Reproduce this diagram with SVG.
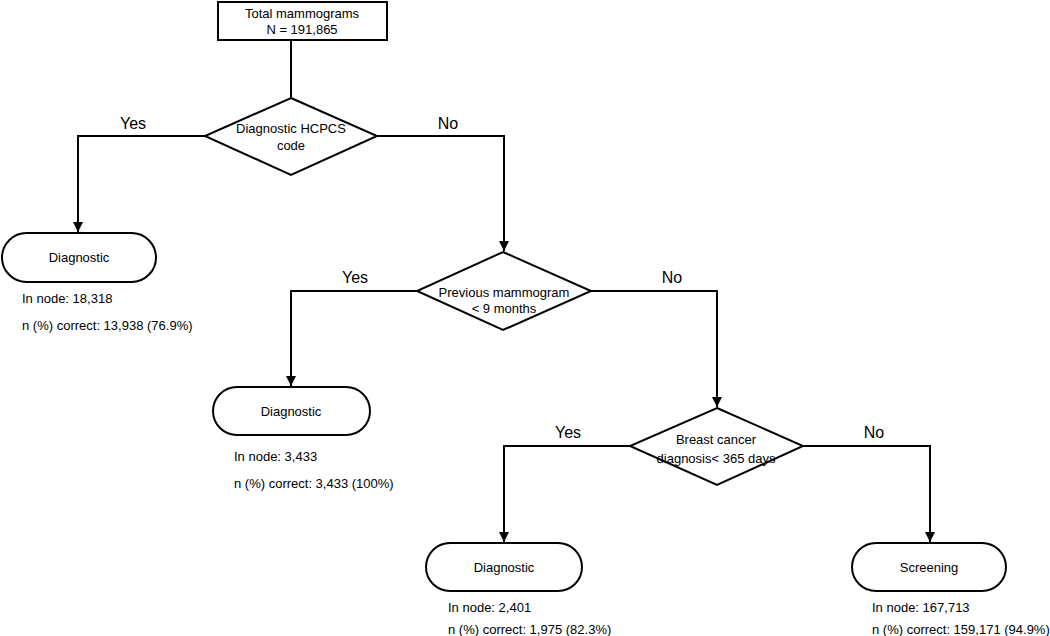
<svg xmlns="http://www.w3.org/2000/svg" width="1050" height="636" viewBox="0 0 1050 636">
<style>
.shape{fill:#fff;stroke:#000;stroke-width:2}
.edge{fill:none;stroke:#000;stroke-width:2}
text{font-family:"Liberation Sans",Arial,sans-serif;fill:#000}
.c{font-size:13px;text-anchor:middle}
.l{font-size:13px}
.yn{font-size:16px;text-anchor:middle}
</style>
<defs>
<marker id="arr" viewBox="0 0 10 10" refX="10" refY="5" markerWidth="5" markerHeight="5" orient="auto" markerUnits="strokeWidth">
<path d="M0,0 L10,5 L0,10 z" fill="#000"/>
</marker>
</defs>
<g id="connectors">
<path class="edge" d="M291,40 V98"/>
<path class="edge" d="M205,136 H78 V232" marker-end="url(#arr)"/>
<path class="edge" d="M377,136 H504 V251" marker-end="url(#arr)"/>
<path class="edge" d="M417,291 H291 V386" marker-end="url(#arr)"/>
<path class="edge" d="M591,291 H717 V407" marker-end="url(#arr)"/>
<path class="edge" d="M630,446 H504 V542" marker-end="url(#arr)"/>
<path class="edge" d="M803,446 H930 V542" marker-end="url(#arr)"/>
<text class="yn" x="133" y="129">Yes</text>
<text class="yn" x="448" y="129">No</text>
<text class="yn" x="355" y="283">Yes</text>
<text class="yn" x="672" y="283">No</text>
<text class="yn" x="568" y="438">Yes</text>
<text class="yn" x="874" y="438">No</text>
</g>
<g id="total">
<rect class="shape" x="218" y="2" width="169" height="38"/>
<text class="c" x="302" y="18">Total mammograms</text>
<text class="c" x="302" y="34">N = 191,865</text>
</g>
<g id="d1">
<polygon class="shape" points="291,98 377,136 291,175 205,136"/>
<text class="c" x="291" y="133">Diagnostic HCPCS</text>
<text class="c" x="291" y="150">code</text>
</g>
<g id="t1">
<rect class="shape" x="2" y="233" width="154" height="49" rx="24.5"/>
<text class="c" x="79" y="262">Diagnostic</text>
<text class="l" x="22" y="303">In node: 18,318</text>
<text class="l" x="22" y="330">n (%) correct: 13,938 (76.9%)</text>
</g>
<g id="d2">
<polygon class="shape" points="503,252 591,291 503,330 417,291"/>
<text class="c" x="504" y="297">Previous mammogram</text>
<text class="c" x="504" y="313">&lt; 9 months</text>
</g>
<g id="t2">
<rect class="shape" x="213" y="387" width="157" height="48" rx="24"/>
<text class="c" x="291" y="416">Diagnostic</text>
<text class="l" x="234" y="461">In node: 3,433</text>
<text class="l" x="234" y="488">n (%) correct: 3,433 (100%)</text>
</g>
<g id="d3">
<polygon class="shape" points="717,408 803,446 717,485 630,446"/>
<text class="c" x="716" y="444">Breast cancer</text>
<text class="c" x="716" y="463">diagnosis&lt; 365 days</text>
</g>
<g id="t3">
<rect class="shape" x="426" y="543" width="156" height="48" rx="24"/>
<text class="c" x="504" y="572">Diagnostic</text>
<text class="l" x="448" y="612">In node: 2,401</text>
<text class="l" x="448" y="634">n (%) correct: 1,975 (82.3%)</text>
</g>
<g id="t4">
<rect class="shape" x="852" y="543" width="154" height="48" rx="24"/>
<text class="c" x="929" y="572">Screening</text>
<text class="l" x="872" y="612">In node: 167,713</text>
<text class="l" x="872" y="634">n (%) correct: 159,171 (94.9%)</text>
</g>
</svg>
